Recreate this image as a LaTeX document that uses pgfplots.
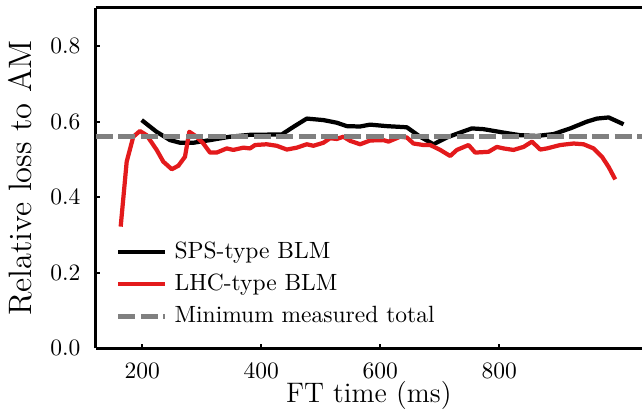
\documentclass[border=0pt]{standalone}
\usepackage{pgfplots}
\pgfplotsset{compat=1.18}
\definecolor{myred}{RGB}{227,26,28}
\definecolor{mygray}{RGB}{128,128,128}
\begin{document}
\begin{tikzpicture}
\begin{axis}[
  at={(0pt,0pt)}, anchor=south west,
  scale only axis,
  width=232.5pt, height=145pt,
  xmin=121.6, xmax=1040,
  ymin=0, ymax=0.902,
  separate axis lines,
  axis x line=box,
  axis y line=left,
  axis line style={-, line width=1.2pt},
  xtick={200,400,600,800},
  ytick={0,0.2,0.4,0.6,0.8},
  xtick pos=bottom,
  ytick pos=left,
  tick align=inside,
  major tick length=1.8pt,
  tick style={line width=0.8pt, black},
  yticklabel style={/pgf/number format/fixed, /pgf/number format/precision=1, /pgf/number format/fixed zerofill, xshift=-3pt},
  xticklabel style={yshift=-2.8pt},
  scaled y ticks=false,
  xlabel={FT time (ms)},
  ylabel={Relative loss to AM},
  every axis x label/.style={at={([yshift=-23pt]axis description cs:0.5,0)}, anchor=base, font=\fontsize{12}{14}\selectfont},
  every axis y label/.style={at={([xshift=-27.1pt]axis description cs:0,0.5)}, anchor=base, rotate=90, font=\fontsize{13.8}{16}\selectfont},
  legend style={draw=none, fill=none, at={(axis description cs:0.037,0.063)}, anchor=south west, inner sep=0pt, outer sep=0pt,
    nodes={inner sep=0pt, text height=7pt, text depth=2pt}, row sep=4.6pt},
  legend cell align=left,
  /tikz/every odd column/.append style={column sep=3pt},
  legend image code/.code={\draw[#1] (0pt,0pt) -- (19.9pt,0pt);},
]
\coordinate (SW) at (rel axis cs:0,0);
\addplot[black, line width=1.8pt, line join=round] coordinates {
(199,0.604) (224,0.573) (246.6,0.551) (263.5,0.544) (285.8,0.544) (313.9,0.551)
(347.5,0.560) (381,0.565) (434.5,0.566) (454,0.586) (476.5,0.608) (504.5,0.604)
(527,0.597) (543.8,0.588) (566,0.587) (583,0.592) (611,0.588) (644.7,0.585)
(667,0.560) (689.5,0.540) (712,0.558) (734.4,0.571) (754,0.582) (773.6,0.580)
(807,0.571) (835,0.564) (863.4,0.562) (891.4,0.567) (919.4,0.582) (947.5,0.600)
(964.3,0.608) (983.9,0.611) (1009,0.593)
};
\addlegendentry{SPS-type BLM}
\addplot[myred, line width=1.8pt, line join=round] coordinates {
(163.7,0.322) (173.8,0.494) (184.9,0.560) (196,0.575) (207.4,0.564) (224.2,0.525)
(235.3,0.494) (249.5,0.474) (260.6,0.483) (271.8,0.507) (279,0.573) (291.5,0.560)
(302.6,0.542) (313.9,0.518) (325,0.518) (342,0.529) (353,0.525) (370,0.531)
(381,0.529) (389.6,0.538) (409,0.540) (426,0.536) (443,0.526) (459.7,0.531)
(476.5,0.540) (487.6,0.536) (504.5,0.544) (515.7,0.556) (527,0.554) (538,0.560)
(549.4,0.549) (566.2,0.540) (583,0.550) (605.4,0.551) (613.8,0.547) (633.5,0.560)
(644.7,0.558) (655.9,0.542) (672.7,0.538) (684,0.538) (700.8,0.525) (717.6,0.509)
(728.8,0.525) (748.4,0.538) (759.6,0.518) (782,0.520) (796,0.533) (807.2,0.529)
(824,0.525) (840.9,0.533) (855,0.547) (869,0.526) (880.2,0.529) (902.6,0.538)
(925,0.542) (941.8,0.540) (958.6,0.529) (972.7,0.507) (983.9,0.480) (995,0.447)
};
\addlegendentry{LHC-type BLM}
\addplot[mygray, line width=2.1pt, dash pattern=on 7.3pt off 2.3pt] coordinates {(121.6,0.5616) (1040,0.5616)};
\addlegendentry{Minimum measured total}
\end{axis}
\pgfresetboundingbox
\path[use as bounding box] ([shift={(-40.7pt,-30.5pt)}]SW) rectangle ([shift={(232.5pt,148.2pt)}]SW);
\end{tikzpicture}
\end{document}
